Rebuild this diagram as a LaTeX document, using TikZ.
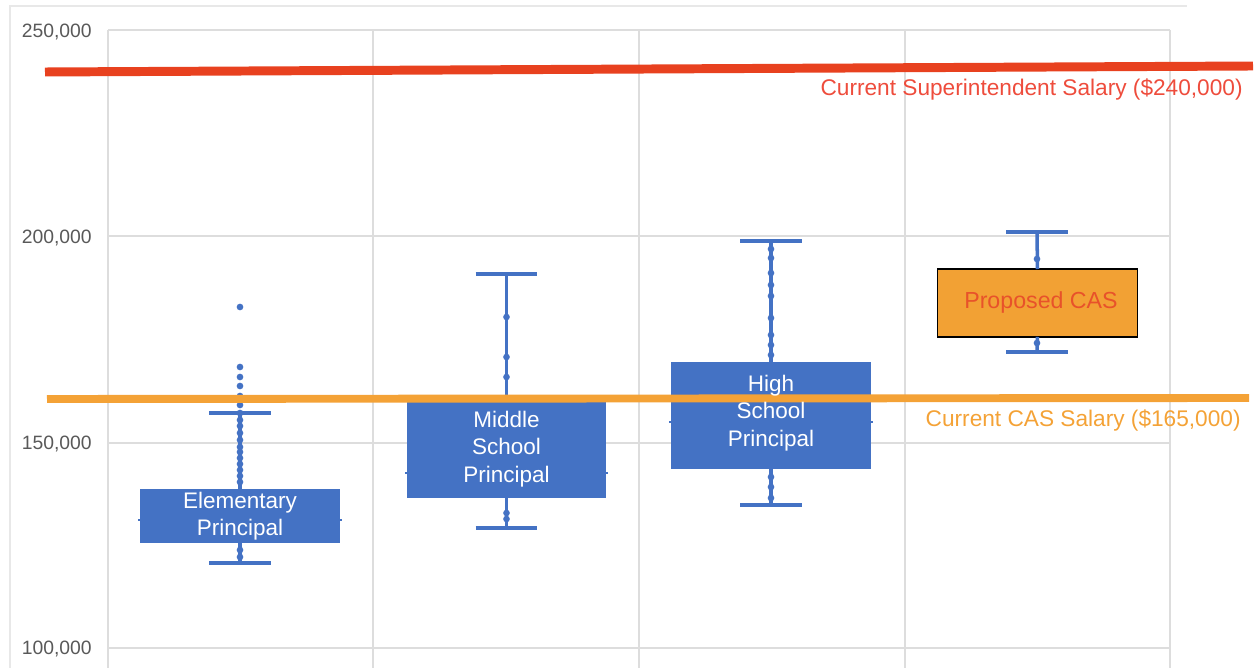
\documentclass[tikz,border=0pt]{standalone}
\usepackage{fontspec}
\setmainfont{Liberation Sans}
\definecolor{boxblue}{HTML}{4472C4}
\definecolor{gridgray}{HTML}{DDDDDD}
\definecolor{framegray}{HTML}{E8E8E8}
\definecolor{axisgray}{HTML}{595959}
\definecolor{suprred}{HTML}{E8411F}
\definecolor{suptext}{HTML}{EE4C3C}
\definecolor{casorange}{HTML}{F4A236}
\definecolor{casfill}{HTML}{F2A134}
\definecolor{castext}{HTML}{E8522A}
\begin{document}
\begin{tikzpicture}[x=0.02cm,y=-0.02cm,
    grid/.style={draw=gridgray,line width=1.1pt},
    plotbox/.style={fill=boxblue,inner sep=0pt,outer sep=0pt,minimum width=4cm},
    whisk/.style={draw=boxblue,line width=2pt},
    boxlab/.style={text=white,align=center,inner sep=0pt,font=\fontsize{12.8}{15.5}\selectfont},
    ylab/.style={anchor=east,text=axisgray,inner sep=0pt,font=\fontsize{11}{13}\selectfont},
    reflab/.style={anchor=east,inner sep=0pt,font=\fontsize{12.9}{15}\selectfont}]
	\useasboundingbox (0,0) rectangle (1259,668);
	
	% frame and grid
	\draw[framegray,line width=0.8pt] (10,668) -- (10,6) -- (1187,6);
	\foreach \gx in {108,373,639,905,1170}
		\draw[grid] (\gx,30) -- (\gx,668);
	\foreach \gy in {30,236,443,648}
		\draw[grid] (108,\gy) -- (1170,\gy);
	
	\node[ylab] (y250) at (92,32) {250,000};
	\node[ylab] (y200) at (92,238) {200,000};
	\node[ylab] (y150) at (92,444) {150,000};
	\node[ylab] (y100) at (92,649) {100,000};
	
	% boxes
	\node[plotbox,minimum height=1.08cm] (elem) at (240,516) {};
	\node[plotbox,minimum height=1.96cm] (mid) at (506.5,449) {};
	\node[plotbox,minimum height=2.14cm] (high) at (771,415.5) {};
	\node[plotbox,fill=casfill,draw=black,line width=0.9pt,minimum height=1.36cm] (cas) at (1037.5,303) {};
	
	% whiskers
	\coordinate (elemtop) at (240,413);  \coordinate (elembot) at (240,563);
	\coordinate (midtop) at (506.5,274); \coordinate (midbot) at (506.5,528);
	\coordinate (hightop) at (771,241);  \coordinate (highbot) at (771,505);
	\coordinate (castop) at (1037,232);  \coordinate (casbot) at (1037,352);
	\foreach \b in {elem,mid,high,cas} {
		\draw[whisk] (\b.north) -- (\b top);
		\draw[whisk] (\b.south) -- (\b bot);
		\draw[whisk] ([xshift=-0.62cm]\b top) -- ([xshift=0.62cm]\b top);
		\draw[whisk] ([xshift=-0.62cm]\b bot) -- ([xshift=0.62cm]\b bot);
	}
	
	% medians
	\draw[boxblue,line width=1pt] (138,520) -- (342,520);
	\draw[boxblue,line width=1pt] (405,473) -- (608,473);
	\draw[boxblue,line width=1pt] (669,422) -- (873,422);
	
	% data points
	\foreach \y in {307,367,377,386,396,405,413,420,426,433,440,447,452,458,464,470,476,482,550,557}
		\fill[boxblue] (240,\y) circle (1.9pt);
	\foreach \y in {317,357,377,513,519}
		\fill[boxblue] (506.5,\y) circle (1.9pt);
	\foreach \y in {249,258,273,285,296,318,335,345,355,477,487,498}
		\fill[boxblue] (771,\y) circle (1.9pt);
	\foreach \y in {259,343}
		\fill[boxblue] (1037,\y) circle (1.9pt);
	
	% reference salaries
	\coordinate (supL) at (45,72);  \coordinate (supR) at (1253,66);
	\coordinate (casL) at (47,399); \coordinate (casR) at (1249,398);
	\draw[suprred,line width=5.1pt] (supL) -- (supR);
	\draw[casorange,line width=4.5pt] (casL) -- (casR);
	
	\node[reflab,text=suptext] (suplab) at (1243,89) {Current Superintendent Salary (\$240,000)};
	\node[reflab,text=casorange] (caslab) at (1241,420) {Current CAS Salary (\$165,000)};
	
	% box labels
	\node[boxlab] (elemlab) at (elem) {Elementary\\Principal};
	\node[boxlab] (midlab) at (mid) {Middle\\School\\Principal};
	\node[boxlab] (highlab) at (771,413) {High\\School\\Principal};
	\node[boxlab,text=castext,font=\fontsize{13.2}{15.5}\selectfont] (caslab2) at (1041,303) {Proposed CAS};
	
\end{tikzpicture}
\end{document}
